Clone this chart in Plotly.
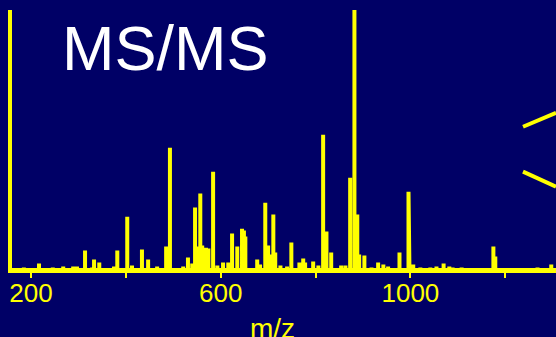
import plotly.graph_objects as go

# MS/MS fragment spectrum: peak m/z and relative intensity (%)
mz = [185, 217, 246, 268, 289, 297, 314, 329, 333, 344, 375, 382, 403, 413,
      434, 447, 466, 485, 493, 521, 531, 540, 546, 552, 557, 561, 569, 574,
      584, 593, 605, 616, 624, 635, 645, 649, 652, 662, 677, 683, 694, 700,
      704, 711, 715, 726, 740, 749, 766, 774, 778, 795, 806, 816, 823, 833,
      854, 863, 873, 882, 888, 892, 903, 918, 932, 943, 953, 977, 996, 998,
      1006, 1021, 1032, 1042, 1055, 1070, 1082, 1089, 1108, 1122, 1175, 1179,
      1268, 1297]
intensity = [1.0, 2.5, 1.0, 1.3, 1.3, 1.3, 7.5, 1.0, 4.0, 2.9, 1.3, 7.5, 20.5, 1.7,
             7.9, 4.0, 1.3, 9.0, 47.0, 1.3, 4.8, 2.5, 24.0, 9.0, 29.4, 9.4, 8.6, 8.3,
             37.8, 1.7, 2.9, 2.9, 14.0, 9.0, 15.9, 15.2, 12.9, 0.6, 4.0, 2.1, 25.9, 9.4,
             6.0, 21.3, 6.7, 1.7, 1.3, 10.6, 2.9, 4.4, 2.9, 3.3, 1.7, 52.0, 14.8, 6.7,
             1.7, 1.7, 35.5, 100.0, 21.3, 6.0, 5.6, 1.0, 2.9, 2.1, 1.3, 6.7, 30.1, 15.5,
             2.1, 1.0, 0.6, 1.0, 1.3, 2.5, 1.3, 1.0, 1.0, 0.6, 9.0, 5.2,
             1.0, 2.1]

mz_range = [160, 1307]
tick_vals = [200, 400, 600, 800, 1000, 1200]
tick_text = ["200", "", "600", "", "1000", ""]

BG = "#000066"
YELLOW = "#FFFF00"
FONT = "Liberation Sans, Arial, sans-serif"

# stick spectrum: each peak rises from and returns to the baseline
xs, ys = [mz_range[0]], [0]
for m, i in zip(mz, intensity):
    xs += [m, m, m]
    ys += [0, i, 0]
xs.append(mz_range[1])
ys.append(0)

fig = go.Figure(go.Scatter(
    x=xs, y=ys, mode="lines",
    line=dict(color=YELLOW, width=4),
    hoverinfo="skip",
))

fig.update_layout(
    width=556, height=337,
    margin=dict(l=12, r=0, t=10, b=67),
    paper_bgcolor=BG, plot_bgcolor=BG,
    showlegend=False,
    font=dict(family=FONT, color=YELLOW),
    xaxis=dict(
        range=mz_range, tickvals=tick_vals, ticktext=tick_text,
        ticks="outside", ticklen=5, tickwidth=1.5, tickcolor=YELLOW,
        ticklabelstandoff=-7,
        showline=True, linecolor=YELLOW, linewidth=3,
        showgrid=False, zeroline=False,
        tickfont=dict(size=26, color=YELLOW, family=FONT),
    ),
    yaxis=dict(
        range=[0, 100], showline=True, linecolor=YELLOW, linewidth=4,
        showticklabels=False, ticks="", showgrid=False, zeroline=False,
    ),
    annotations=[
        dict(text="MS/MS", xref="paper", yref="paper", x=(60 - 12) / 544,
             y=(270.5 - 48) / 260.5,
             xanchor="left", yanchor="middle", showarrow=False,
             font=dict(size=63, color="white", family=FONT)),
        dict(text="m/z", xref="paper", yref="paper", x=(272 - 12) / 544,
             y=(270.5 - 312) / 260.5,
             xanchor="center", yanchor="top", showarrow=False,
             font=dict(size=28, color=YELLOW, family=FONT)),
    ],
    shapes=[
        dict(type="line", xref="paper", yref="paper",
             x0=(523 - 12) / 544, y0=(270.5 - 127) / 260.5, x1=1.0, y1=(270.5 - 113) / 260.5,
             line=dict(color=YELLOW, width=4)),
        dict(type="line", xref="paper", yref="paper",
             x0=(523 - 12) / 544, y0=(270.5 - 172) / 260.5, x1=1.0, y1=(270.5 - 187) / 260.5,
             line=dict(color=YELLOW, width=4)),
    ],
)

fig.write_html("out.html")
